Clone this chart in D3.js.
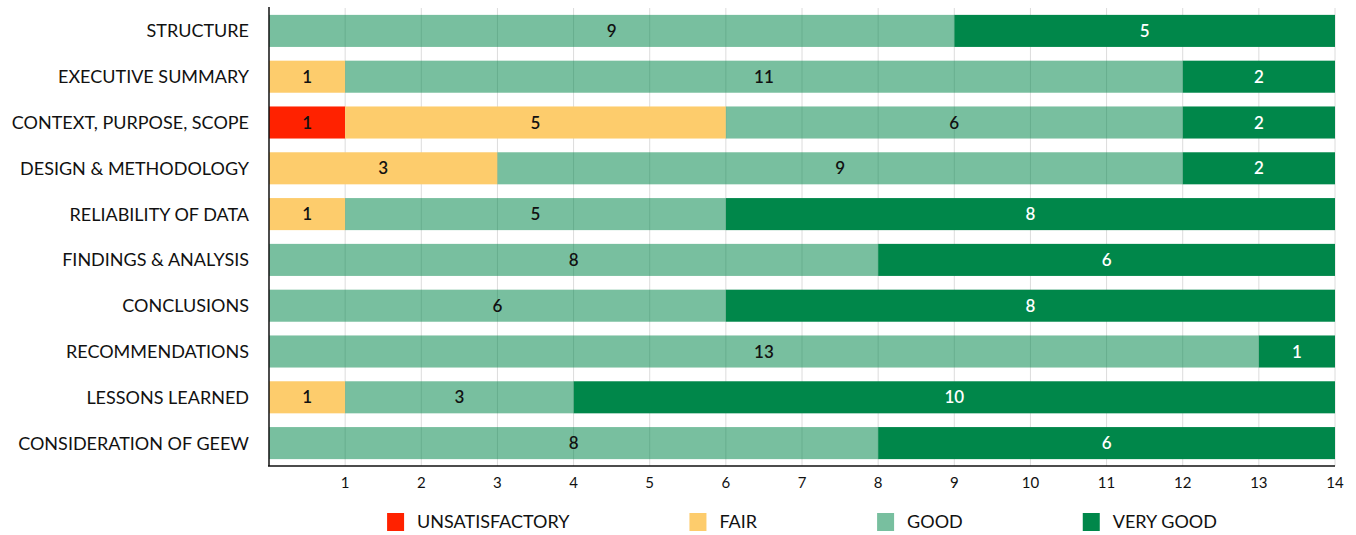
<!DOCTYPE html>
<html>
<head>
<meta charset="utf-8">
<script src="https://cdn.jsdelivr.net/npm/d3@7"></script>
<style>
  body { margin: 0; background: #fff; }
  text { font-family: "Lato", "Open Sans", sans-serif; fill: #111; }
</style>
</head>
<body>
<script>
// categories, top to bottom
var categories = ["STRUCTURE", "EXECUTIVE SUMMARY", "CONTEXT, PURPOSE, SCOPE", "DESIGN & METHODOLOGY",
    "RELIABILITY OF DATA", "FINDINGS & ANALYSIS", "CONCLUSIONS", "RECOMMENDATIONS",
    "LESSONS LEARNED", "CONSIDERATION OF GEEW"];

var seriesNames = ["UNSATISFACTORY", "FAIR", "GOOD", "VERY GOOD"];

// values per series, same order as categories
var unsatisfactory = [0, 0, 1, 0, 0, 0, 0, 0, 0, 0];
var fair           = [0, 1, 5, 3, 1, 0, 0, 0, 1, 0];
var good           = [9, 11, 6, 9, 5, 8, 6, 13, 3, 8];
var veryGood       = [5, 2, 2, 2, 8, 6, 8, 1, 10, 6];

var xTicks = [1, 2, 3, 4, 5, 6, 7, 8, 9, 10, 11, 12, 13, 14];

var colors = ["#ff2200", "#fdcc6c", "#00874a", "#00874a"];
var opac = [1, 1, 0.53, 1];
var labelColors = ["#111", "#111", "#111", "#fff"];

var W = 1356, H = 535;
var svg = d3.select("body").append("svg")
    .attr("width", W)
    .attr("height", H);

var x = d3.scaleLinear().domain([0, 14]).range([269, 1335]);
var y = d3.scaleBand().domain(categories).range([8, 466])
    .paddingInner(0.3).paddingOuter(0.15);

// build rows for stacking
var table = categories.map(function(c, i) {
    return { cat: c, "UNSATISFACTORY": unsatisfactory[i], "FAIR": fair[i], "GOOD": good[i], "VERY GOOD": veryGood[i] };
});
var stacked = d3.stack().keys(seriesNames)(table);

// gridlines
svg.append("g").selectAll("line")
    .data(xTicks)
    .join("line")
    .attr("x1", d => x(d)).attr("x2", d => x(d))
    .attr("y1", 8).attr("y2", 466)
    .attr("stroke", "#dcdcdc")
    .attr("stroke-width", 1);

// bars
var layers = svg.append("g").selectAll("g")
    .data(stacked)
    .join("g");

layers.selectAll("rect")
    .data(d => d.map(v => ({ s: d.index, v: v })))
    .join("rect")
    .attr("x", d => x(d.v[0]))
    .attr("width", d => x(d.v[1]) - x(d.v[0]))
    .attr("y", d => y(d.v.data.cat))
    .attr("height", y.bandwidth())
    .attr("fill", d => colors[d.s])
    .attr("fill-opacity", d => opac[d.s]);

// value labels
layers.selectAll("text")
    .data(d => d.map(v => ({ s: d.index, v: v })).filter(d => d.v[1] - d.v[0] > 0))
    .join("text")
    .attr("x", d => (x(d.v[0]) + x(d.v[1])) / 2)
    .attr("y", d => y(d.v.data.cat) + y.bandwidth() / 2)
    .attr("dy", "0.36em")
    .attr("text-anchor", "middle")
    .style("font-size", "17px")
    .style("font-weight", "600")
    .style("fill", d => labelColors[d.s])
    .text(d => d.v[1] - d.v[0]);

// category labels
svg.append("g").selectAll("text")
    .data(categories)
    .join("text")
    .attr("x", 249)
    .attr("y", d => y(d) + y.bandwidth() / 2)
    .attr("dy", "0.36em")
    .attr("text-anchor", "end")
    .style("font-size", "18px")
    .text(d => d);

// x tick labels
svg.append("g").selectAll("text")
    .data(xTicks)
    .join("text")
    .attr("x", d => x(d))
    .attr("y", 483)
    .attr("dy", "0.36em")
    .attr("text-anchor", "middle")
    .style("font-size", "15px")
    .text(d => d);

// axis lines
svg.append("line").attr("x1", 269).attr("x2", 269).attr("y1", 7).attr("y2", 466)
    .attr("stroke", "#111").attr("stroke-width", 1.5);
svg.append("line").attr("x1", 268).attr("x2", 1335).attr("y1", 466).attr("y2", 466)
    .attr("stroke", "#111").attr("stroke-width", 1.5);

// legend, centred under plot
var legend = svg.append("g");
var items = legend.selectAll("g")
    .data(seriesNames)
    .join("g");
items.append("rect")
    .attr("width", 17).attr("height", 18)
    .attr("y", 513)
    .attr("fill", (d, i) => colors[i])
    .attr("fill-opacity", (d, i) => opac[i]);
items.append("text")
    .attr("x", 30)
    .attr("y", 522)
    .attr("dy", "0.36em")
    .style("font-size", "18px")
    .text(d => d);

var pos = 0, starts = [];
items.each(function(d, i) {
    starts.push(pos);
    var tw = d3.select(this).select("text").node().getComputedTextLength();
    pos += 30 + tw + (i < seriesNames.length - 1 ? 120 : 0);
});
var offset = (x(0) + x(14)) / 2 - pos / 2;
items.attr("transform", (d, i) => "translate(" + (offset + starts[i]) + ",0)");
</script>
</body>
</html>
